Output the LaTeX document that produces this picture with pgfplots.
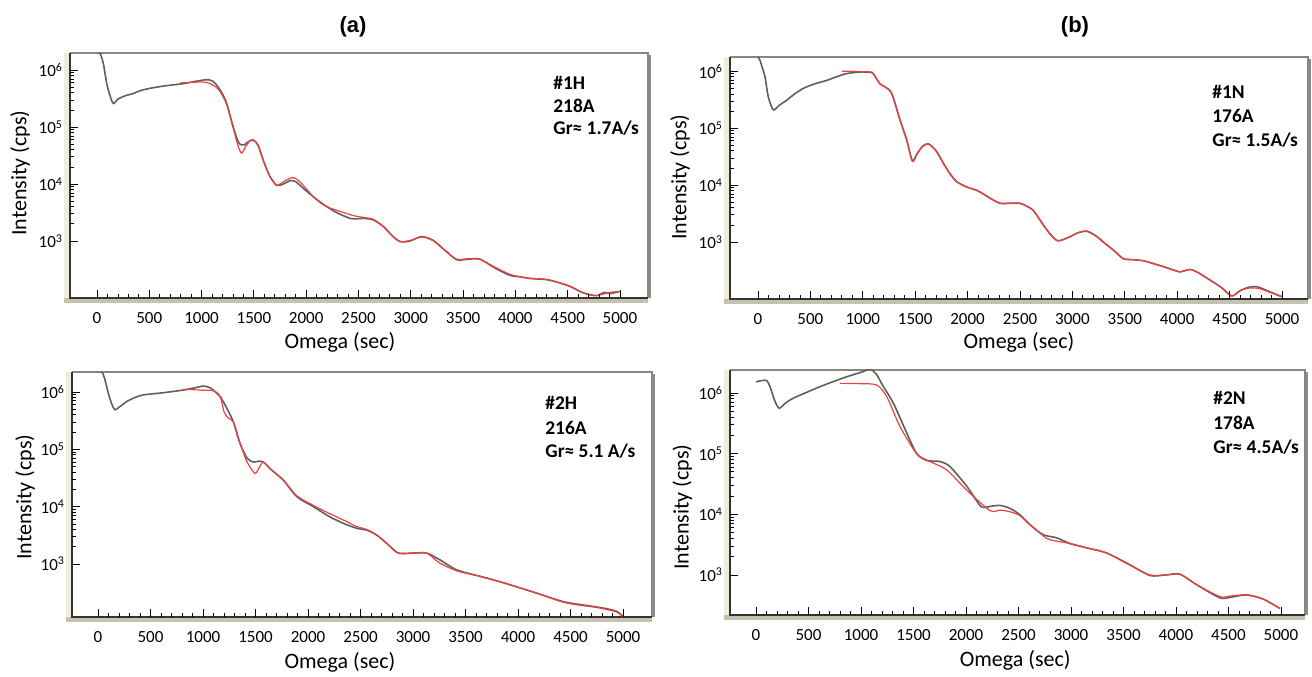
\documentclass[border=0pt]{standalone}
\usepackage{fontspec}
\setmainfont{Carlito}
\newfontfamily\arial{Liberation Sans}
\usepackage{pgfplots}
\pgfplotsset{compat=1.18}
\definecolor{measgray}{RGB}{95,95,95}
\definecolor{fitred}{RGB}{238,64,64}
\definecolor{band}{RGB}{198,194,176}
\definecolor{lband}{RGB}{240,236,220}
\definecolor{framegray}{RGB}{135,135,125}

\newcommand{\frameit}{%
 \fill[lband] ([xshift=-3pt]rel axis cs:0,0) rectangle (rel axis cs:0,1);
 \fill[band] ([xshift=-3pt,yshift=-2.5pt]rel axis cs:0,0) rectangle (rel axis cs:1,0);
 \draw[framegray, line width=0.6pt] (rel axis cs:0,1) -- (rel axis cs:1,1) -- (rel axis cs:1,0);
 \draw[black!45, line width=1pt] ([xshift=0.8pt,yshift=-1pt]rel axis cs:1,1) -- ([xshift=0.8pt]rel axis cs:1,0);
 \draw[black!80, line width=0.6pt] (rel axis cs:0,1) -- (rel axis cs:0,0) -- (rel axis cs:1,0);
}

\pgfplotsset{
  every axis/.append style={
    scale only axis, axis line style={draw=none},
    clip mode=individual, axis on top,
    xtick={0,500,...,5000}, minor x tick num=4,
    ytick={1e3,1e4,1e5,1e6},
    yticklabels={10\textsuperscript{3},10\textsuperscript{4},10\textsuperscript{5},10\textsuperscript{6}},
    tick pos=left, tick align=inside,
    major tick length=4pt, minor tick length=1.8pt,
    tick style={black, line width=0.4pt},
    tick label style={font=\fontsize{8.5}{10}\selectfont},
    xticklabel style={anchor=center, yshift=-10pt,
      /pgf/number format/assume math mode=true,
      /pgf/number format/set thousands separator={}},
    label style={font=\fontsize{11}{13}\selectfont},
    xlabel={Omega (sec)}, ylabel={Intensity (cps)},
  },
  every axis y label/.style={rotate=90, anchor=center},
  every axis x label/.style={anchor=center},
}
\tikzset{
 measline/.style={measgray, line width=0.8pt, smooth, tension=0.45},
 fitline/.style={fitred, line width=0.6pt, smooth, tension=0.45},
}

\begin{document}
\begin{tikzpicture}
\useasboundingbox (0,0) rectangle (656pt,338pt);

% ---------------- (a) top: #1H
\begin{axis}[ymode=log, at={(35pt,189pt)}, anchor=south west,
  width=289pt, height=122.5pt, xmin=-258, xmax=5268, ymin=100, ymax=2e6,
  ylabel style={at={(axis description cs:-0.0865,0.51)}},
  xlabel style={at={(axis description cs:0.467,-0.18)}}]
\frameit
\addplot[measline] coordinates {
(0,2.0e6) (30,1.95e6) (61,1.3e6) (93,5.8e5) (124,3.6e5) (156,2.6e5) (200,3.1e5) (260,3.5e5)
(347,3.9e5) (420,4.4e5) (507,4.8e5) (650,5.3e5) (825,5.8e5) (950,6.4e5) (1048,6.8e5) (1100,6.5e5)
(1144,5.5e5) (1200,3.8e5) (1240,2.6e5) (1303,1.0e5) (1340,6.2e4) (1367,5.0e4) (1410,4.9e4)
(1450,5.6e4) (1494,5.9e4) (1540,4.8e4) (1590,2.6e4) (1650,1.4e4) (1718,9.5e3) (1780,1.0e4)
(1850,1.15e4) (1900,1.1e4) (1980,8.2e3) (2068,6e3) (2150,4.6e3) (2228,3.7e3) (2300,3.1e3)
(2419,2.5e3) (2480,2.45e3) (2546,2.5e3) (2642,2.35e3) (2738,1.8e3) (2820,1.25e3) (2897,980)
(2992,1.0e3) (3104,1.2e3) (3215,1.02e3) (3330,680) (3439,470) (3550,480) (3662,480) (3800,340)
(3948,250) (4050,235) (4140,220) (4299,210) (4420,185) (4522,160) (4620,130) (4682,118)
(4777,110) (4850,125) (4904,120) (5000,130)};
\addplot[fitline] coordinates {
(800,6.0e5) (900,6.1e5) (1000,6.2e5) (1060,6.0e5) (1120,5.3e5) (1170,4.4e5) (1240,2.5e5)
(1300,1.0e5) (1350,4.6e4) (1383,3.5e4) (1420,4.5e4) (1460,5.7e4) (1494,6.0e4) (1540,4.8e4)
(1590,2.6e4) (1650,1.4e4) (1718,9.5e3) (1800,1.15e4) (1877,1.3e4) (1950,1.05e4) (2068,6e3)
(2150,4.5e3) (2228,3.8e3) (2350,3.2e3) (2450,2.8e3) (2546,2.6e3) (2642,2.4e3) (2738,1.8e3)
(2820,1.25e3) (2897,980) (2992,1.02e3) (3104,1.18e3) (3215,1.02e3) (3330,680) (3439,480)
(3550,490) (3662,480) (3800,350) (3948,260) (4050,235) (4140,222) (4299,212) (4420,185)
(4522,160) (4620,130) (4700,115) (4777,110) (4900,125) (5000,130)};
\end{axis}

% ---------------- (b) top: #1N
\begin{axis}[ymode=log, at={(365pt,188.5pt)}, anchor=south west,
  width=289pt, height=121pt, xmin=-267, xmax=5248, ymin=100, ymax=1.78e6,
  ylabel style={at={(axis description cs:-0.0865,0.504)}},
  xlabel style={at={(axis description cs:0.5,-0.178)}}]
\frameit
\addplot[measline] coordinates {
(0,1.78e6) (19,1.55e6) (45,1.1e6) (67,8e5) (99,3.5e5) (146,2.1e5) (200,2.5e5) (274,3.1e5)
(350,4e5) (432,5e5) (540,6e5) (656,6.9e5) (750,8e5) (846,9.1e5) (973,9.7e5) (1085,9.5e5)
(1120,8e5) (1164,6e5) (1212,5.3e5) (1275,4.1e5) (1355,1.4e5) (1419,6.2e4) (1473,2.7e4)
(1520,3.6e4) (1570,4.8e4) (1626,5.3e4) (1700,4.0e4) (1770,2.4e4) (1830,1.6e4) (1896,1.15e4)
(1990,9.3e3) (2087,8.1e3) (2150,7e3) (2214,5.9e3) (2309,4.8e3) (2400,4.8e3) (2500,4.8e3)
(2560,4.3e3) (2627,3.6e3) (2722,2e3) (2800,1.3e3) (2866,1.05e3) (2977,1.24e3) (3050,1.45e3)
(3136,1.55e3) (3220,1.3e3) (3295,1.0e3) (3400,700) (3486,510) (3580,490) (3677,470) (3770,420)
(3868,370) (3950,330) (4027,300) (4122,330) (4200,290) (4313,215) (4420,160) (4520,113)
(4600,140) (4679,160) (4758,165) (4820,150) (4900,130) (4997,110)};
\addplot[fitline] coordinates {
(800,1.0e6) (900,1.0e6) (1000,9.8e5) (1085,9.6e5) (1120,8e5) (1164,6e5) (1212,5.3e5)
(1275,4.1e5) (1355,1.4e5) (1419,6.2e4) (1473,2.6e4) (1520,3.6e4) (1570,4.8e4) (1626,5.3e4)
(1700,4.0e4) (1770,2.4e4) (1830,1.6e4) (1896,1.15e4) (1990,9.3e3) (2087,8.1e3) (2150,7e3)
(2214,5.9e3) (2309,4.8e3) (2400,4.8e3) (2500,4.8e3) (2560,4.3e3) (2627,3.6e3) (2722,2e3)
(2800,1.3e3) (2866,1.05e3) (2977,1.24e3) (3050,1.45e3) (3136,1.55e3) (3220,1.3e3) (3295,1.0e3)
(3400,700) (3486,510) (3580,490) (3677,470) (3770,420) (3868,370) (3950,330) (4027,300)
(4122,330) (4200,290) (4313,215) (4420,160) (4520,113) (4600,140) (4679,155) (4758,155)
(4820,145) (4900,128) (4997,110)};
\end{axis}

% ---------------- (a) bottom: #2H
\begin{axis}[ymode=log, at={(36pt,29.5pt)}, anchor=south west,
  width=290pt, height=122.5pt, xmin=-248, xmax=5276, ymin=119, ymax=2.23e6,
  ylabel style={at={(axis description cs:-0.081,0.49)}},
  xlabel style={at={(axis description cs:0.462,-0.184)}}]
\frameit
\addplot[measline] coordinates {
(0,2.3e6) (40,2.2e6) (67,1.6e6) (98,9.5e5) (130,6.2e5) (162,4.9e5) (210,5.6e5) (273,6.8e5)
(350,8e5) (432,8.9e5) (600,9.6e5) (812,1.08e6) (920,1.18e6) (1003,1.27e6) (1060,1.2e6)
(1097,1.08e6) (1162,8.3e5) (1220,5.5e5) (1289,3.0e5) (1352,1.26e5) (1420,7e4) (1479,6.0e4)
(1530,6.2e4) (1574,6.0e4) (1650,4.4e4) (1765,2.9e4) (1892,1.5e4) (2051,1.0e4) (2210,6.6e3)
(2350,5e3) (2463,4.2e3) (2559,3.9e3) (2654,3.2e3) (2760,2.2e3) (2860,1.55e3) (3000,1.55e3)
(3130,1.55e3) (3250,1.2e3) (3416,790) (3638,610) (3829,490) (3987,400) (4178,310) (4432,220)
(4600,195) (4749,178) (4850,165) (4940,149) (5003,121)};
\addplot[fitline] coordinates {
(800,1.1e6) (900,1.1e6) (1000,1.07e6) (1100,1.05e6) (1162,8.5e5) (1200,4.5e5) (1240,3.5e5)
(1289,3.0e5) (1352,1.3e5) (1420,6e4) (1495,3.8e4) (1540,5e4) (1574,6e4) (1650,4.4e4)
(1765,2.9e4) (1892,1.55e4) (2051,1.05e4) (2210,7.5e3) (2350,5.7e3) (2463,4.5e3) (2559,4.0e3)
(2654,3.2e3) (2760,2.2e3) (2860,1.55e3) (3000,1.55e3) (3130,1.55e3) (3250,1.05e3) (3416,760)
(3638,610) (3829,490) (3987,400) (4178,310) (4432,215) (4600,190) (4749,175) (4850,160)
(4940,145) (5003,121)};
\end{axis}

% ---------------- (b) bottom: #2N
\begin{axis}[ymode=log, at={(365pt,30.5pt)}, anchor=south west,
  width=287.5pt, height=122.5pt, xmin=-248, xmax=5229, ymin=219, ymax=2.39e6,
  ylabel style={at={(axis description cs:-0.083,0.44)}},
  xlabel style={at={(axis description cs:0.496,-0.184)}}]
\frameit
\addplot[measline] coordinates {
(0,1.53e6) (60,1.6e6) (102,1.6e6) (133,1.27e6) (181,7.2e5) (222,5.6e5) (280,6.8e5) (355,8.2e5)
(480,1.02e6) (610,1.27e6) (740,1.55e6) (864,1.85e6) (1022,2.25e6) (1085,2.5e6) (1149,2.0e6)
(1213,1.27e6) (1308,6.8e5) (1435,2.2e5) (1530,1.0e5) (1626,7.7e4) (1752,7.4e4) (1848,6.1e4)
(2007,2.9e4) (2133,1.4e4) (2180,1.3e4) (2229,1.35e4) (2324,1.4e4) (2420,1.25e4) (2514,9.8e3)
(2620,6.5e3) (2736,4.6e3) (2863,4.1e3) (2990,3.3e3) (3150,2.8e3) (3340,2.3e3) (3562,1.47e3)
(3752,980) (3900,1.0e3) (4038,1.03e3) (4197,690) (4419,420) (4520,430) (4673,470) (4832,400)
(4990,280)};
\addplot[fitline] coordinates {
(800,1.44e6) (1000,1.42e6) (1149,1.35e6) (1245,8.7e5) (1371,2.8e5) (1530,1.0e5) (1657,7.4e4)
(1816,5.4e4) (2007,2.5e4) (2229,1.15e4) (2324,1.17e4) (2420,1.1e4) (2514,9.5e3) (2620,6.5e3)
(2736,4.4e3) (2800,3.8e3) (2990,3.3e3) (3150,2.8e3) (3340,2.3e3) (3562,1.45e3) (3752,1.0e3)
(3900,1.0e3) (4038,1.03e3) (4197,690) (4419,440) (4520,450) (4673,470) (4832,400) (4990,280)};
\end{axis}

% annotations and panel titles
\begin{scope}[every node/.style={anchor=west, inner sep=0pt, font=\fontsize{9.7}{11}\selectfont\bfseries}]
\node at (276.5pt,296.5pt) {\#1H};
\node at (276.5pt,285pt) {218A};
\node at (276.5pt,274pt) {Gr≈ 1.7A/s};
\node at (606pt,292pt) {\#1N};
\node at (606pt,280pt) {176A};
\node at (606pt,268pt) {Gr≈ 1.5A/s};
\node at (272.5pt,136.5pt) {\#2H};
\node at (272.5pt,124pt) {216A};
\node at (272.5pt,112.5pt) {Gr≈ 5.1 A/s};
\node at (606.5pt,139pt) {\#2N};
\node at (606.5pt,126.5pt) {178A};
\node at (606.5pt,114.5pt) {Gr≈ 4.5A/s};
\end{scope}
\node[font=\arial\bfseries\fontsize{11}{13}\selectfont] at (176.5pt,324.5pt) {(a)};
\node[font=\arial\bfseries\fontsize{11}{13}\selectfont] at (537.5pt,324.5pt) {(b)};
\end{tikzpicture}
\end{document}
